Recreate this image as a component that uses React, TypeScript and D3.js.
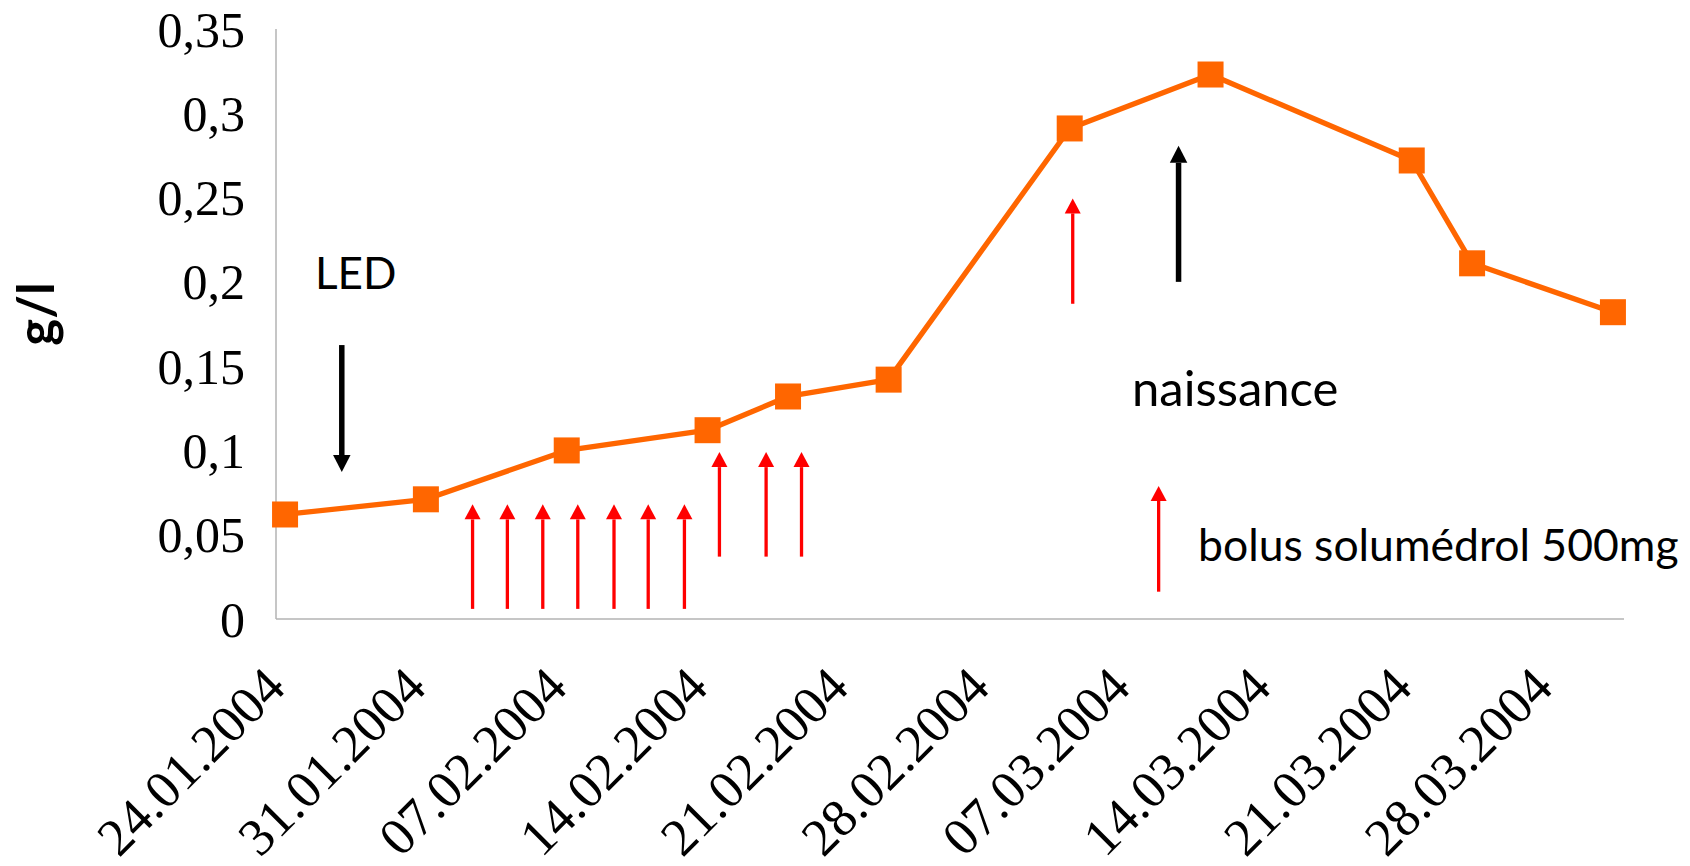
import React from "react";
import * as d3 from "d3";

// Days counted from 24.01.2004 along the chart's axis
const pointDays = [0, 7, 14, 21, 25, 30, 39, 46, 56, 59, 66];
const pointValues = [0.062, 0.071, 0.1, 0.112, 0.132, 0.142, 0.291, 0.323, 0.272, 0.211, 0.182];

const tickLabels = [
  "24.01.2004", "31.01.2004", "07.02.2004", "14.02.2004", "21.02.2004",
  "28.02.2004", "07.03.2004", "14.03.2004", "21.03.2004", "28.03.2004",
];
const tickDays = [0, 7, 14, 21, 28, 35, 42, 49, 56, 63];
const yTicks = [0, 0.05, 0.1, 0.15, 0.2, 0.25, 0.3, 0.35];

// bolus solumédrol arrows (day, from value, to value)
const bolusDays = [9.77, 11.5, 13.26, 15.0, 16.8, 18.5, 20.3, 22.04, 24.36, 26.12, 39.6];
const bolusFrom = [0.006, 0.006, 0.006, 0.006, 0.006, 0.006, 0.006, 0.037, 0.037, 0.037, 0.187];
const bolusTo = [0.068, 0.068, 0.068, 0.068, 0.068, 0.068, 0.068, 0.099, 0.099, 0.099, 0.2495];

// black event arrows: LED (down) and naissance (up)
const eventDays = [3.27, 44.86];
const eventFrom = [0.1625, 0.2];
const eventTo = [0.0872, 0.2807];

// legend arrow
const legendArrowDay = [43.87];
const legendArrowFrom = [0.0162];
const legendArrowTo = [0.0789];

const W = 1690;
const H = 866;
const plotLeft = 276;
const plotRight = 1624;
const plotTop = 29;
const plotBottom = 619;
const slotOffset = 0.45;

const x = d3.scaleLinear().domain([0, 67]).range([plotLeft, plotRight]);
const y = d3.scaleLinear().domain([0, 0.35]).range([plotBottom, plotTop]);

const fmt = (v: number) => String(+v.toFixed(2)).replace(".", ",");

function Arrow({ x0, y0, y1, shaft, headW, headH, color }: any) {
  const dir = y1 < y0 ? 1 : -1; // 1 = pointing up
  const baseY = y1 + dir * headH;
  return (
    <g>
      <line x1={x0} x2={x0} y1={y0} y2={baseY} stroke={color} strokeWidth={shaft} />
      <path d={`M${x0 - headW / 2},${baseY} L${x0 + headW / 2},${baseY} L${x0},${y1} Z`} fill={color} />
    </g>
  );
}

const serif = "'Liberation Serif', 'Times New Roman', serif";
const sans = "Lato, 'Open Sans', sans-serif";

export default function App() {
  const pts = pointDays.map((d, i) => [x(d + slotOffset), y(pointValues[i])] as [number, number]);
  const line = d3.line()(pts) || "";
  return (
    <svg width={W} height={H} style={{ position: "absolute", left: 0, top: 0, background: "#fff" }}>
      {/* axes */}
      <line x1={plotLeft} x2={plotLeft} y1={plotTop} y2={plotBottom} stroke="#b3b3b3" strokeWidth={1.5} />
      <line x1={plotLeft} x2={plotRight} y1={plotBottom} y2={plotBottom} stroke="#b3b3b3" strokeWidth={1.5} />

      {/* y tick labels */}
      {yTicks.map((t) => (
        <text key={t} x={245} y={y(t)} dy="0.35em" textAnchor="end" style={{ fontFamily: serif, fontSize: 50 }} fill="#000">
          {fmt(t)}
        </text>
      ))}

      {/* x tick labels */}
      {tickDays.map((d, i) => (
        <g key={d} transform={`translate(${x(d) - 13},${plotBottom + 46}) rotate(-45)`}>
          <text dy="0.66em" textAnchor="end" style={{ fontFamily: serif, fontSize: 53 }} fill="#000">
            {tickLabels[i]}
          </text>
        </g>
      ))}

      {/* y axis title */}
      <text transform="translate(54,314) rotate(-90)" textAnchor="middle" style={{ fontFamily: sans, fontWeight: "bold", fontSize: 51 }}>
        g/l
      </text>

      {/* red bolus arrows */}
      {bolusDays.map((d, i) => (
        <Arrow key={i} x0={x(d)} y0={y(bolusFrom[i])} y1={y(bolusTo[i])} shaft={3.3} headW={16} headH={15} color="#ff0000" />
      ))}
      {legendArrowDay.map((d, i) => (
        <Arrow key={"l" + i} x0={x(d)} y0={y(legendArrowFrom[i])} y1={y(legendArrowTo[i])} shaft={3.3} headW={16} headH={15} color="#ff0000" />
      ))}

      {/* black event arrows */}
      {eventDays.map((d, i) => (
        <Arrow key={"e" + i} x0={x(d)} y0={y(eventFrom[i])} y1={y(eventTo[i])} shaft={5.5} headW={17.5} headH={17} color="#000" />
      ))}

      {/* series */}
      <path d={line} fill="none" stroke="#ff6600" strokeWidth={5.3} strokeLinejoin="round" />
      {pts.map(([px, py], i) => (
        <rect key={i} x={px - 13} y={py - 13} width={26} height={26} fill="#ff6600" />
      ))}

      {/* annotation texts */}
      <text x={315} y={289} style={{ fontFamily: sans, fontSize: 44 }} fill="#000">LED</text>
      <text x={1132} y={406} style={{ fontFamily: sans, fontSize: 49 }} fill="#000">naissance</text>
      <text x={1198} y={561} style={{ fontFamily: sans, fontSize: 44.5 }} fill="#000">bolus solumédrol 500mg</text>
    </svg>
  );
}
